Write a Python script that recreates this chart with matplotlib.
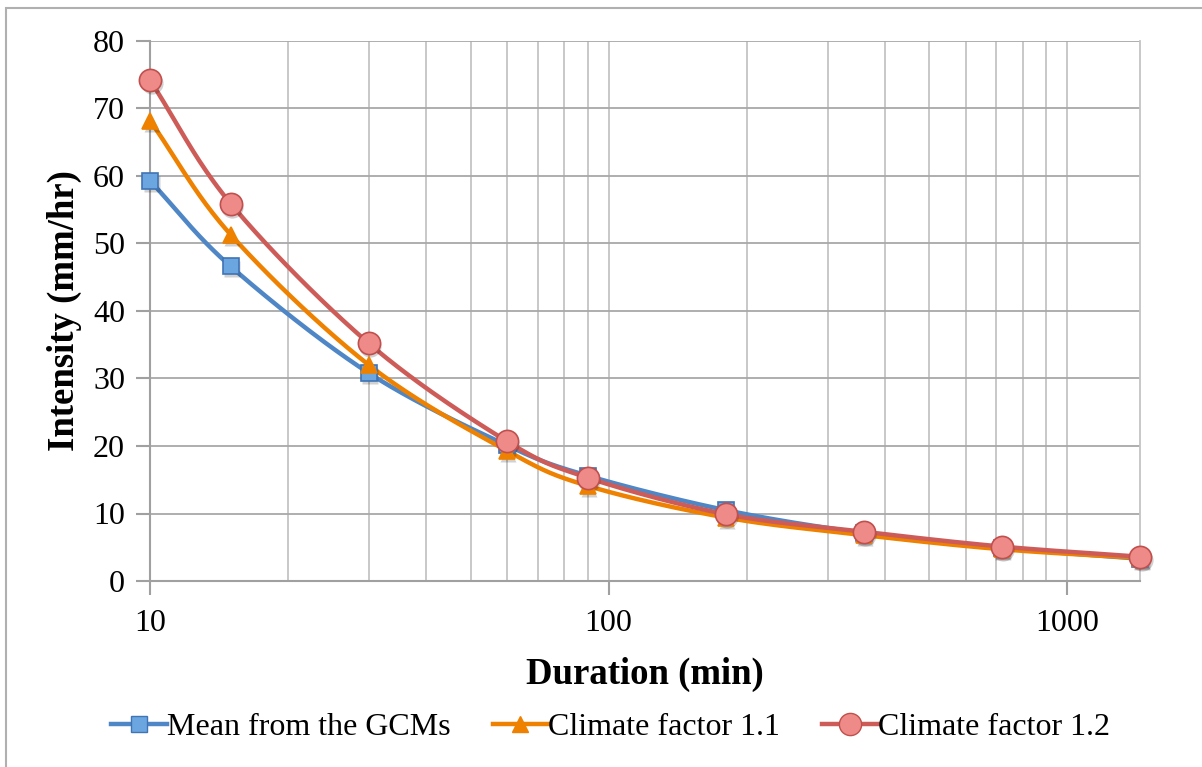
import numpy as np
import matplotlib
matplotlib.use("Agg")
import matplotlib.pyplot as plt
from matplotlib.ticker import LogLocator, FixedLocator, NullFormatter
from matplotlib.patches import Rectangle
from matplotlib.lines import Line2D

duration = [10, 15, 30, 60, 90, 180, 360, 720, 1440]
mean_gcm = [59.3, 46.6, 30.8, 20.1, 15.6, 10.5, 7.1, 4.9, 3.3]
factor_11 = [68.2, 51.3, 32.0, 19.3, 14.1, 9.4, 6.8, 4.7, 3.4]
factor_12 = [74.2, 55.9, 35.2, 20.7, 15.3, 9.9, 7.3, 5.1, 3.6]
series_names = ["Mean from the GCMs", "Climate factor 1.1", "Climate factor 1.2"]
x_ticks = [10, 100, 1000]
y_ticks = [0, 10, 20, 30, 40, 50, 60, 70, 80]

plt.rcParams['font.family'] = ['Liberation Serif', 'DejaVu Serif']

fig = plt.figure(figsize=(12.02, 7.67), dpi=100)
ax = fig.add_axes([150/1202, 1-581/767, (1140-150)/1202, (581-41)/767])

# outer frame
fig.patches.append(Rectangle((6/1202, -0.05), 1.2, 1-8/767+0.05, transform=fig.transFigure,
                             fill=False, edgecolor="#b0b0b0", linewidth=1.5))


def smooth(xs, ys, n=40):
    # Catmull-Rom spline in (log x, y) space, like Excel's smoothed line
    lx = np.log10(np.asarray(xs, float))
    yy = np.asarray(ys, float)
    P = np.column_stack([lx, yy])
    P = np.vstack([P[0] - (P[1] - P[0]), P, P[-1] + (P[-1] - P[-2])])
    out = []
    for i in range(1, len(P) - 2):
        p0, p1, p2, p3 = P[i-1], P[i], P[i+1], P[i+2]
        t = np.linspace(0, 1, n)[:, None]
        seg = 0.5 * ((2*p1) + (-p0 + p2)*t + (2*p0 - 5*p1 + 4*p2 - p3)*t**2 + (-p0 + 3*p1 - 3*p2 + p3)*t**3)
        out.append(seg if i == 1 else seg[1:])
    out = np.vstack(out)
    return 10**out[:, 0], out[:, 1]


styles = [
    dict(color="#4F86C6", marker="s", mfc="#6CA6E0", mec="#3F74B5", ms=11),
    dict(color="#EE8100", marker="^", mfc="#EE8100", mec="#EE8100", ms=12),
    dict(color="#CD5C58", marker="o", mfc="#EE8A88", mec="#C0504D", ms=16),
]
handles = []
for ys, st, name in zip([mean_gcm, factor_11, factor_12], styles, series_names):
    sx, sy = smooth(duration, ys)
    ax.plot(sx, sy, color=st["color"], lw=3.2, zorder=3, solid_capstyle="round", clip_on=False)
    # soft shadow
    ax.plot(duration, ys, linestyle="none", marker=st["marker"], ms=st["ms"],
            mfc="#000000", mec="none", alpha=0.18, zorder=3.5, clip_on=False,
            transform=ax.transData + matplotlib.transforms.ScaledTranslation(1.5/100, -3/100, fig.dpi_scale_trans))
    ax.plot(duration, ys, linestyle="none", marker=st["marker"], ms=st["ms"],
            mfc=st["mfc"], mec=st["mec"], mew=1.2, zorder=4, clip_on=False)
    handles.append(Line2D([], [], color=st["color"], lw=3.2, marker=st["marker"],
                          ms=st["ms"], mfc=st["mfc"], mec=st["mec"], label=name))

ax.set_xscale("log")
ax.set_xlim(10, 1440)
ax.set_ylim(0, 80)
ax.xaxis.set_major_locator(FixedLocator(x_ticks))
ax.xaxis.set_minor_locator(LogLocator(base=10, subs=np.arange(2, 10)))
ax.xaxis.set_minor_formatter(NullFormatter())
ax.set_xticklabels([str(t) for t in x_ticks])
ax.set_yticks(y_ticks)

ax.grid(True, which="major", axis="y", color="#a8a8a8", lw=1.3)
ax.grid(True, which="both", axis="x", color="#c4c4c4", lw=1.3)
ax.set_axisbelow(True)

ax.spines["top"].set_visible(False)
ax.spines["right"].set_color("#c4c4c4")
ax.spines["right"].set_linewidth(1.3)
for s in ["left", "bottom"]:
    ax.spines[s].set_color("#a0a0a0")
    ax.spines[s].set_linewidth(1.5)

ax.tick_params(axis="both", which="major", length=10, width=1.5, color="#a0a0a0",
               labelsize=23, pad=8)
ax.tick_params(axis="x", which="minor", length=0)
ax.tick_params(axis="x", which="major", pad=10)

ax.set_xlabel("Duration (min)", fontsize=26.5, fontweight="bold", labelpad=14)
ax.set_ylabel("Intensity (mm/hr)", fontsize=26.5, fontweight="bold", labelpad=8)

fig.legend(handles=handles, loc="center", bbox_to_anchor=(0.508, 1-727/767), ncol=3,
           frameon=False, fontsize=23, handlelength=1.75, handletextpad=0.0, columnspacing=1.3)

fig.savefig("out.png", dpi=100)
